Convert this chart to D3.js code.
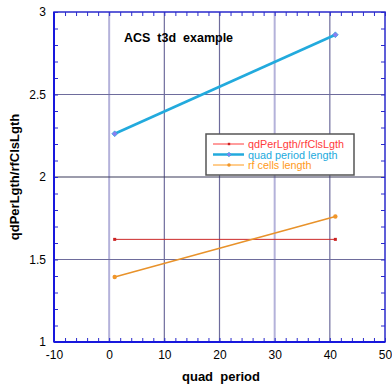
<!DOCTYPE html>
<html><head><meta charset="utf-8">
<script src="https://cdn.jsdelivr.net/npm/d3@7"></script>
<style>body{margin:0;background:#fff}svg{display:block}text{font-family:"Liberation Sans",Arial,sans-serif;white-space:pre}</style>
</head><body>
<script>
const xValues = [1, 41];
const ratioValues = [1.622, 1.622];
const quadValues = [2.262, 2.862];
const rfValues = [1.394, 1.761];
const seriesNames = ["qdPerLgth/rfClsLgth", "quad period length", "rf cells length"];
const xTicks = [-10, 0, 10, 20, 30, 40, 50];
const yTicks = [1, 1.5, 2, 2.5, 3];
const titleText = "ACS  t3d  example";
const xLabel = "quad  period";
const yLabel = "qdPerLgth/rfClsLgth";

const W = 392, H = 387;
const L = 54, R = 385, T = 12, B = 342;
const svg = d3.select("body").append("svg").attr("width", W).attr("height", H);
const x = d3.scaleLinear().domain([-10, 50]).range([L, R]);
const y = d3.scaleLinear().domain([1, 3]).range([B, T]);

// grid
const gridDark = "#6e6c9c", gridLight = "#b4b2da";
const vGrid = [0, 10, 20, 30, 40];
const vGridColor = {0: gridLight, 10: gridDark, 20: gridDark, 30: gridLight, 40: gridDark};
svg.append("g").selectAll("line").data(vGrid).join("line")
  .attr("x1", d => x(d)).attr("x2", d => x(d)).attr("y1", T).attr("y2", B)
  .attr("stroke", d => vGridColor[d]).attr("stroke-width", d => vGridColor[d] === gridLight ? 2 : 1.2);
const hGrid = [1.5, 2, 2.5];
svg.append("g").selectAll("line").data(hGrid).join("line")
  .attr("x1", L).attr("x2", R).attr("y1", d => y(d)).attr("y2", d => y(d))
  .attr("stroke", d => d === 2 ? "#3a3a5a" : gridDark).attr("stroke-width", 1.2);

// axes with inward ticks
const axisColor = "#2a2acc";
function styleAxis(g) {
  g.select(".domain").remove();
  g.selectAll("line").attr("stroke", axisColor);
  g.selectAll("text").attr("fill", "#000").attr("font-size", 12);
}
const xMinor = d3.range(-10, 50.01, 2);
const yMinor = d3.range(1, 3.001, 0.1);
svg.append("g").attr("transform", `translate(0,${B})`)
  .call(d3.axisBottom(x).tickValues(xMinor).tickSize(-4).tickFormat(""))
  .call(styleAxis);
svg.append("g").attr("transform", `translate(0,${B})`)
  .call(d3.axisBottom(x).tickValues(xTicks).tickSize(0).tickPadding(8).tickFormat(d => String(d)))
  .call(styleAxis);
svg.append("g").attr("transform", `translate(0,${T})`)
  .call(d3.axisTop(x).tickValues(xMinor).tickSize(-4).tickFormat(""))
  .call(styleAxis);
svg.append("g").attr("transform", `translate(${L},0)`)
  .call(d3.axisLeft(y).tickValues(yMinor).tickSize(-4).tickFormat(""))
  .call(styleAxis);
svg.append("g").attr("transform", `translate(${L},0)`)
  .call(d3.axisLeft(y).tickValues(yTicks).tickSize(0).tickPadding(8).tickFormat(d => String(d)))
  .call(styleAxis);
svg.append("g").attr("transform", `translate(${R},0)`)
  .call(d3.axisRight(y).tickValues(yMinor).tickSize(-4).tickFormat(""))
  .call(styleAxis);

// frame
svg.append("rect").attr("x", L).attr("y", T).attr("width", R - L).attr("height", B - T)
  .attr("fill", "none").attr("stroke", axisColor).attr("stroke-width", 1.5);
svg.append("line").attr("x1", L).attr("x2", R).attr("y1", B).attr("y2", B).attr("stroke", "#1818dd").attr("stroke-width", 2);
svg.append("line").attr("x1", L).attr("x2", L).attr("y1", T).attr("y2", B).attr("stroke", "#1818dd").attr("stroke-width", 2);

// series
const series = [
  {name: seriesNames[0], vals: ratioValues, color: "#cc2a2a", width: 1, marker: "square", mcolor: "#cc2222", r: 1.5},
  {name: seriesNames[1], vals: quadValues, color: "#22aadd", width: 2.6, marker: "diamond", mcolor: "#8a7ef0", r: 2.8},
  {name: seriesNames[2], vals: rfValues, color: "#e8922a", width: 1.5, marker: "circle", mcolor: "#f0962a", r: 2.2}
];
const line = d3.line().x(d => x(d[0])).y(d => y(d[1]));
function drawMarker(g, cx, cy, s) {
  if (s.marker === "square") g.append("rect").attr("x", cx - s.r).attr("y", cy - s.r).attr("width", 2 * s.r).attr("height", 2 * s.r).attr("fill", s.mcolor);
  else if (s.marker === "diamond") g.append("path").attr("d", d3.symbol(d3.symbolSquare, s.r * s.r * 2.2)()).attr("transform", `translate(${cx},${cy}) rotate(45)`).attr("fill", s.mcolor).attr("stroke", "#22aadd").attr("stroke-width", 0.6);
  else g.append("circle").attr("cx", cx).attr("cy", cy).attr("r", s.r).attr("fill", s.mcolor);
}
const sg = svg.append("g");
series.forEach(s => {
  const pts = xValues.map((xv, i) => [xv, s.vals[i]]);
  sg.append("path").attr("d", line(pts)).attr("fill", "none").attr("stroke", s.color).attr("stroke-width", s.width);
  pts.forEach(p => drawMarker(sg, x(p[0]), y(p[1]), s));
});

// title
svg.append("text").attr("x", 124).attr("y", 42).attr("font-size", 12.5).attr("font-weight", "bold").text(titleText);

// axis labels
svg.append("text").attr("x", 221).attr("y", 381).attr("text-anchor", "middle")
  .attr("font-size", 13).attr("font-weight", "bold").text(xLabel);
svg.append("text").attr("transform", `translate(19,${(T + B) / 2}) rotate(-90)`).attr("text-anchor", "middle")
  .attr("font-size", 13).attr("font-weight", "bold").text(yLabel);

// legend
const lg = svg.append("g");
lg.append("rect").attr("x", 206).attr("y", 134).attr("width", 148).attr("height", 41)
  .attr("fill", "#fff").attr("stroke", "#555").attr("stroke-width", 1.5);
const legColors = ["#ff3b3b", "#22aadd", "#ff9a1a"];
series.forEach((s, i) => {
  const ly = 144 + i * 10.5;
  lg.append("line").attr("x1", 213).attr("x2", 244).attr("y1", ly).attr("y2", ly)
    .attr("stroke", legColors[i]).attr("stroke-width", i === 1 ? 2.5 : 1);
  drawMarker(lg, 229, ly, Object.assign({}, s, {r: s.r * 0.8}));
  lg.append("text").attr("x", 248).attr("y", ly + 4).attr("font-size", 10.8)
    .attr("fill", legColors[i]).text(s.name);
});
</script>
</body></html>
